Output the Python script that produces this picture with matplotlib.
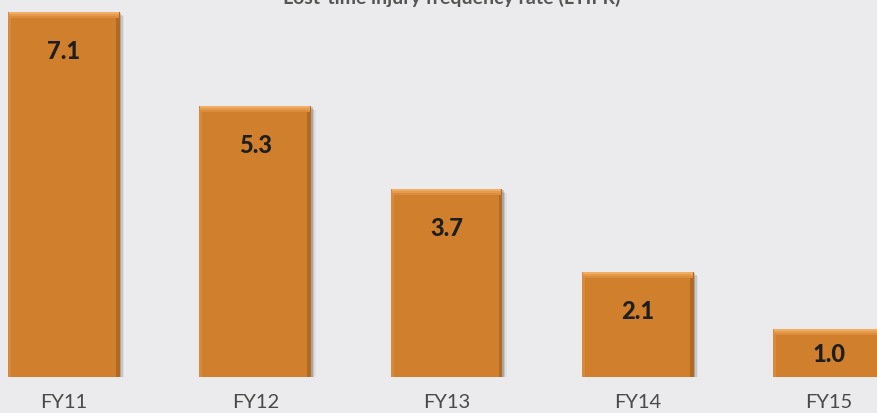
import matplotlib
matplotlib.use("Agg")
import matplotlib.pyplot as plt
from matplotlib.transforms import ScaledTranslation
import numpy as np

categories = ["FY11", "FY12", "FY13", "FY14", "FY15"]
values = [7.1, 5.3, 3.7, 2.1, 1.0]
value_labels = ["7.1", "5.3", "3.7", "2.1", "1.0"]
title = "Lost-time injury frequency rate (LTIFR)"

W, H, DPI = 877, 414, 100
bg = "#ebebed"
bar_color = "#d07f2c"
PX_PER_UNIT = 52

fig = plt.figure(figsize=(W / DPI, H / DPI), dpi=DPI, facecolor=bg)
ax = fig.add_axes([0, (414 - 378) / 414, 1, 378 / 414])
ax.set_facecolor(bg)

x = np.arange(len(categories))
width = 0.585

# soft drop shadow
for d, a in [(1.5, 0.20), (3.0, 0.12), (4.5, 0.06)]:
    ax.bar(x, values, width=width, color="#2a2015", alpha=a, zorder=1,
           transform=ax.transData + ScaledTranslation(d / DPI, -d / DPI, fig.dpi_scale_trans))

ax.bar(x, values, width=width, color=bar_color, zorder=2, edgecolor="none")
# right darker edge
ax.bar(x + width / 2 - 0.01, values, width=0.02, color="#b06a22", zorder=3)
# left slightly lighter edge
ax.bar(x - width / 2 + 0.008, values, width=0.016, color="#d88a3a", zorder=3)
# top bevel gradient
vals = np.array(values)
for i, (h, c) in enumerate([(6, "#dc8c3c"), (4, "#e69a4e"), (2, "#f0ad64")]):
    th = h / PX_PER_UNIT
    ax.bar(x, [th] * len(values), bottom=vals - th, width=width - 0.01, color=c, zorder=3 + i)

ax.set_ylim(0.08, 7.35)
ax.set_xlim(-64 / 191.25, (877 - 64) / 191.25)
ax.axis("off")

for xi, v, lab in zip(x, values, value_labels):
    off = min(39, (v - 0.08) * PX_PER_UNIT / 2)
    ax.annotate(lab, (xi, v), xytext=(0, -off), textcoords="offset pixels",
                ha="center", va="center", fontsize=17, fontweight="black",
                family="Lato", color="#1e1e1e", zorder=10)

for xi, c in zip(x, categories):
    ax.annotate(c, (xi, 0.08), xytext=(0, -30), textcoords="offset pixels",
                ha="center", va="baseline", fontsize=14.5, fontweight="normal",
                family="Lato", color="#4a4a4a", annotation_clip=False)

fig.text(452 / W, 1 - 4 / H, title, ha="center", va="baseline",
         fontsize=14, fontweight="bold", family="Lato", color="#555555")

fig.savefig("out.png", dpi=DPI, facecolor=bg)
